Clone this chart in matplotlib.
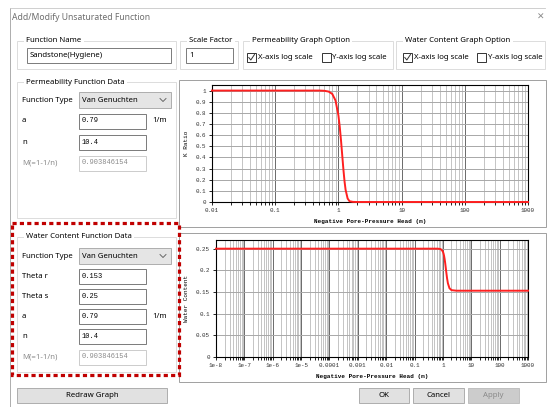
import matplotlib
matplotlib.use('Agg')
import matplotlib.pyplot as plt
from matplotlib.patches import Rectangle
from matplotlib.ticker import FixedLocator, LogLocator, NullFormatter

# values
head_k = [0.01, 0.5, 0.6, 0.7, 0.8, 0.9, 1.0, 1.05, 1.1, 1.15, 1.2, 1.25, 1.3, 1.4, 1.5, 1.7, 2.0, 1000]
k_ratio = [1.0, 1.0, 0.998, 0.991, 0.970, 0.911, 0.778, 0.675, 0.552, 0.419, 0.292, 0.186, 0.109, 0.031, 0.007, 0.001, 0.0, 0.0]

head_w = [1e-8, 0.5, 0.6, 0.7, 0.8, 0.9, 1.0, 1.05, 1.1, 1.15, 1.2, 1.25, 1.3, 1.4, 1.5, 1.7, 2.0, 3.0, 1000]
water = [0.25, 0.25, 0.25, 0.2498, 0.2493, 0.2475, 0.243, 0.239, 0.2333, 0.226, 0.2174, 0.2079, 0.1983, 0.1817, 0.1701, 0.1588, 0.1543, 0.1530, 0.153]

k_xticks = [0.01, 0.1, 1, 10, 100, 1000]
k_xlabels = ['0.01', '0.1', '1', '10', '100', '1000']
k_yticks = [0, 0.1, 0.2, 0.3, 0.4, 0.5, 0.6, 0.7, 0.8, 0.9, 1]
k_ylabels = ['0', '0.1', '0.2', '0.3', '0.4', '0.5', '0.6', '0.7', '0.8', '0.9', '1']
w_xticks = [1e-8, 1e-7, 1e-6, 1e-5, 1e-4, 1e-3, 0.01, 0.1, 1, 10, 100, 1000]
w_xlabels = ['1e-8', '1e-7', '1e-6', '1e-5', '0.0001', '0.001', '0.01', '0.1', '1', '10', '100', '1000']
w_yticks = [0, 0.05, 0.1, 0.15, 0.2, 0.25]
w_ylabels = ['0', '0.05', '0.1', '0.15', '0.2', '0.25']

perm_rows = [('a', '0.79', '1/m'), ('n', '10.4', '')]
perm_m = '0.903846154'
water_rows = [('Theta r', '0.153', ''), ('Theta s', '0.25', ''), ('a', '0.79', '1/m'), ('n', '10.4', '')]
water_m = '0.903846154'

W, H = 550, 407
UI = 'Noto Sans'
MONO = 'Liberation Mono'
UIS = 5.6

fig = plt.figure(figsize=(5.5, 4.07), dpi=100)
fig.patch.set_facecolor('white')
ui = fig.add_axes([0, 0, 1, 1])
ui.set_xlim(0, W)
ui.set_ylim(H, 0)
ui.axis('off')


def box(x0, y0, x1, y1, fc='white', ec='#7a7a7a', lw=0.7, z=1):
    ui.add_patch(Rectangle((x0, y0), x1 - x0, y1 - y0, facecolor=fc, edgecolor=ec, lw=lw, zorder=z))


def txt(x, y, s, color='black', size=UIS, family=UI, ha='left', **kw):
    ui.text(x, y, s, color=color, fontsize=size, family=family, ha=ha, va='center', **kw)


def group(x0, y0, x1, y1, label):
    box(x0, y0, x1, y1, fc='none', ec='#dcdcdc', lw=0.7)
    ui.text(x0 + 7, y0, ' ' + label + ' ', fontsize=UIS, family=UI, va='center', ha='left',
            bbox=dict(facecolor='white', edgecolor='none', pad=0.3), zorder=3)


def checkbox(x, y, label, checked):
    box(x, y - 4.5, x + 9, y + 4.5, ec='#333333', lw=0.7)
    if checked:
        ui.plot([x + 1.8, x + 3.8, x + 7.5], [y, y + 2.5, y - 3], color='#333333', lw=0.7)
    txt(x + 10.5, y, label)


def button(x0, x1, label, enabled=True):
    box(x0, 388, x1, 403, fc='#e1e1e1' if enabled else '#cccccc', ec='#adadad' if enabled else '#bfbfbf')
    txt((x0 + x1) / 2, 395.5, label, ha='center', color='black' if enabled else '#8a8a8a')


def combo(y):
    box(79, y - 8, 171, y + 8, fc='#e5e5e5', ec='#adadad')
    txt(82, y, 'Van Genuchten')
    ui.plot([160, 163, 166], [y - 1.5, y + 1.5, y - 1.5], color='#555555', lw=0.6)


def field(y, label, value, unit='', grey=False):
    txt(22, y, label, color='#8a8a8a' if grey else 'black')
    box(79, y - 7.5, 146, y + 7.5, ec='#cccccc' if grey else '#7a7a7a')
    txt(82, y, value, family=MONO, size=5.0, color='#8a8a8a' if grey else 'black')
    if unit:
        txt(152, y, unit)


# window frame and title
ui.plot([9.5, 9.5], [8, H], color='#a0a0a0', lw=0.6)
ui.plot([9.5, 545], [8, 8], color='#c8c8c8', lw=0.6)
txt(12, 17, 'Add/Modify Unsaturated Function', color='#6d6d6d', size=6.2)
txt(541, 17, '\u2715', color='#8a8a8a', size=6.5, family='DejaVu Sans', ha='center')

# top row of groups
group(17, 41, 176, 69, 'Function Name')
box(27, 48, 171, 63)
txt(30, 55.5, 'Sandstone(Hygiene)')
group(180, 41, 238, 69, 'Scale Factor')
box(186, 48, 233, 63)
txt(189, 55.5, '1')
group(243, 41, 393, 69, 'Permeability Graph Option')
checkbox(247, 57.5, 'X-axis log scale', True)
checkbox(322, 57.5, 'Y-axis log scale', False)
group(396, 41, 545, 69, 'Water Content Graph Option')
checkbox(403, 57.5, 'X-axis log scale', True)
checkbox(477, 57.5, 'Y-axis log scale', False)

# permeability data
group(17, 82, 176, 218, 'Permeability Function Data')
txt(22, 100, 'Function Type')
combo(100)
for i, (lab, val, unit) in enumerate(perm_rows):
    field(121 + 21 * i, lab, val, unit)
field(163, 'M(=1-1/n)', perm_m, grey=True)

# water content data
group(17, 237, 176, 372, 'Water Content Function Data')
txt(22, 256, 'Function Type')
combo(256)
for i, (lab, val, unit) in enumerate(water_rows):
    field(276 + 20.3 * i, lab, val, unit)
field(357, 'M(=1-1/n)', water_m, grey=True)

# highlight
ui.add_patch(Rectangle((12, 223), 167, 152, fill=False, edgecolor='#c00000', lw=2.3,
                       linestyle=(0, (1.3, 1.0)), zorder=5))

# graph panels
box(179, 80, 546, 227, ec='#a0a0a0')
box(179, 233, 546, 382, ec='#a0a0a0')

# buttons
button(17, 167, 'Redraw Graph')
button(359, 409, 'OK')
button(413, 464, 'Cancel')
button(468, 519, 'Apply', enabled=False)


def graph(rect, x, y, xlim, ylim, xt, xl, yt, yl, ylabel):
    l, t, r, b = rect
    ax = fig.add_axes([l / W, 1 - b / H, (r - l) / W, (b - t) / H])
    ax.set_xscale('log')
    ax.plot(x, y, color='#ff2020', lw=1.4, zorder=4, clip_on=False)
    ax.set_xlim(*xlim)
    ax.set_ylim(*ylim)
    ax.xaxis.set_major_locator(FixedLocator(xt))
    ax.set_xticklabels(xl)
    ax.xaxis.set_minor_locator(LogLocator(base=10, subs=range(2, 10), numticks=40))
    ax.xaxis.set_minor_formatter(NullFormatter())
    ax.set_yticks(yt)
    ax.set_yticklabels(yl)
    ax.grid(True, which='major', axis='x', color='#6a6a6a', lw=0.7)
    ax.grid(True, which='minor', axis='x', color='#c4c4c4', lw=0.7)
    ax.grid(True, which='major', axis='y', color='#a8a8a8', lw=0.7)
    ax.tick_params(which='both', direction='out', length=2.5, width=0.6, labelsize=4.2, pad=1.8,
                   labelcolor='#333333')
    for lab in ax.get_xticklabels() + ax.get_yticklabels():
        lab.set_family(MONO)
    for s in ax.spines.values():
        s.set_linewidth(0.8)
    ax.set_xlabel('Negative Pore-Pressure Head (m)', family=MONO, fontsize=4.3,
                  fontweight='bold', labelpad=4)
    ax.set_ylabel(ylabel, family=MONO, fontsize=4.3, labelpad=5)
    return ax


graph((212, 85, 528, 202), head_k, k_ratio, (0.01, 1000), (0, 1.05),
      k_xticks, k_xlabels, k_yticks, k_ylabels, 'K Ratio')
graph((216, 240, 528, 357), head_w, water, (1e-8, 1000), (0, 0.27),
      w_xticks, w_xlabels, w_yticks, w_ylabels, 'Water Content')

fig.savefig('out.png', dpi=100, facecolor='white')
